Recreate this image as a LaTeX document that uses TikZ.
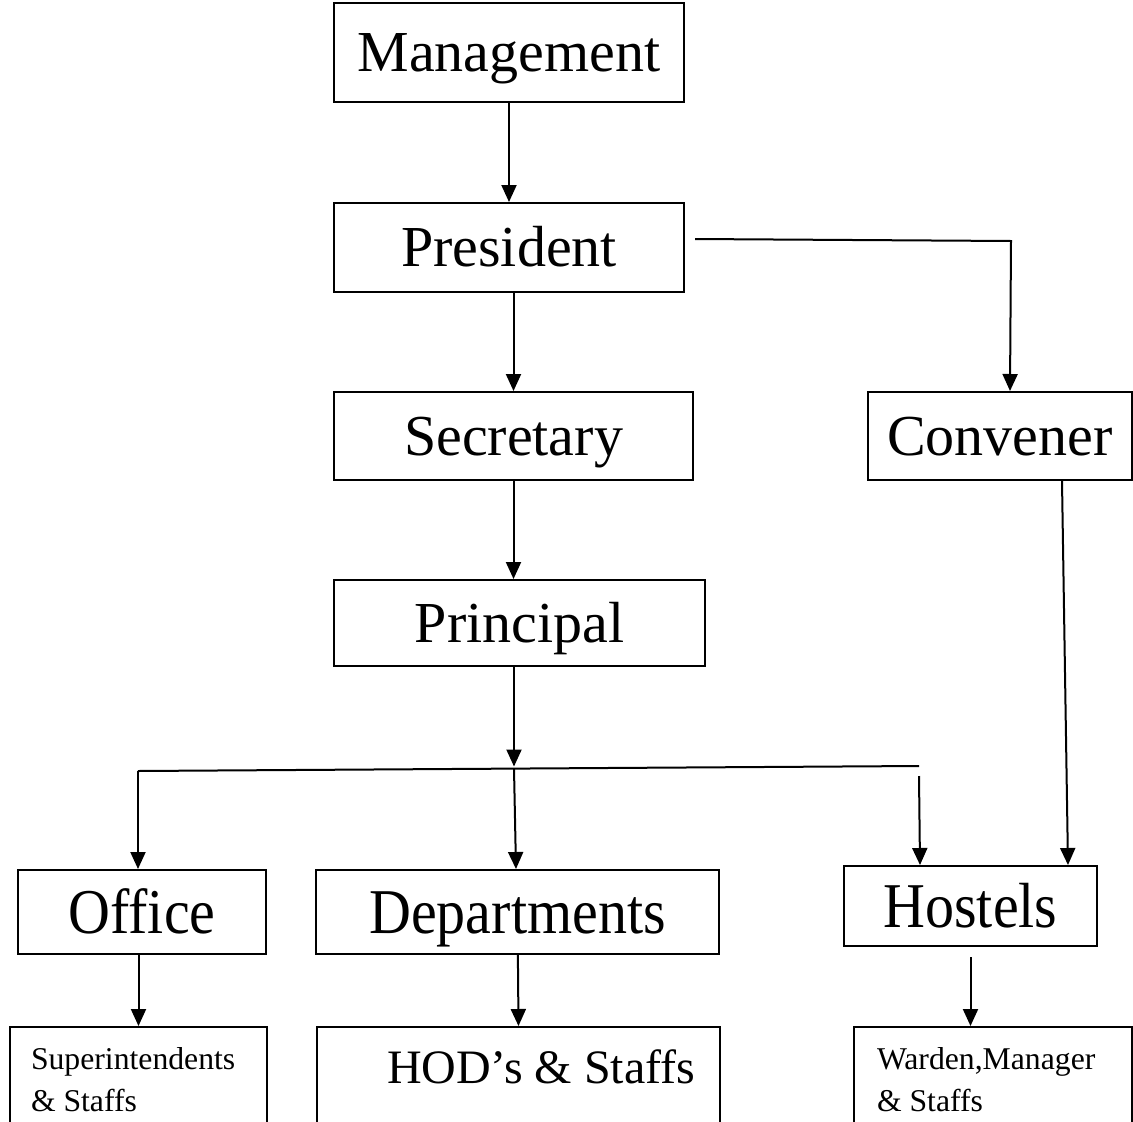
\documentclass[tikz,border=0pt]{standalone}
\usepackage{fontspec}
\setmainfont{Liberation Serif}
\usetikzlibrary{arrows.meta}

\tikzset{
  box/.style={draw, line width=2pt, inner sep=0pt, text height=38pt, text depth=0pt, font=\fontsize{58}{60}\selectfont},
  tallbox/.style={box, text height=42pt},
  lowbox/.style={draw, line width=2pt, anchor=north west, inner sep=0pt, text height=#1, text depth=150pt},
  arr/.style={line width=2pt, -{Triangle[length=17pt,width=15pt]}},
  link/.style={line width=2pt}
}
\newcommand{\lowtext}[3]{\parbox[t]{#1}{\raggedright\leftskip=#2 #3}}
\newcommand{\tall}[1]{\scalebox{1}[1.1]{#1}}

\begin{document}
\begin{tikzpicture}[x=1pt, y=-1pt]
        \useasboundingbox (0,0) rectangle (1133,1122);
        \node[box, minimum width=350pt, minimum height=99pt] (mgmt) at (509,52.5) {Management};
        \node[box, minimum width=350pt, minimum height=89pt] (pres) at (509,247.5) {President};
        \node[box, minimum width=359pt, minimum height=88pt] (sec) at (513.5,436) {Secretary};
        \node[box, minimum width=264pt, minimum height=88pt] (conv) at (1000,436) {Convener};
        \node[box, minimum width=371pt, minimum height=86pt] (prin) at (519.5,623) {Principal};
        \node[tallbox, minimum width=248pt, minimum height=84pt] (office) at (142,912) {\tall{Office}};
        \node[tallbox, minimum width=403pt, minimum height=84pt] (dept) at (517.5,912) {\tall{Departments}};
        \node[tallbox, minimum width=253pt, minimum height=80pt] (hostel) at (970.5,906) {\tall{Hostels}};
        \node[lowbox=42pt, font=\fontsize{31.7}{42}\selectfont] (sup) at (9,1026) {\lowtext{257pt}{21pt}{Superintendents\\\& Staffs}};
        \node[lowbox=56pt, font=\fontsize{48}{50}\selectfont] (hod) at (316,1026) {\lowtext{403pt}{70pt}{HOD’s \& Staffs}};
        \node[lowbox=42pt, font=\fontsize{31.7}{42}\selectfont] (warden) at (853,1026) {\lowtext{278pt}{23pt}{Warden,Manager\\\& Staffs}};
        \coordinate (busL) at (138,771);
        \coordinate (busM) at (514,768.5);
        \coordinate (busR) at (919,766);
        \draw[arr] (mgmt) -- (pres);
        \draw[arr] (pres.south -| sec.north) -- (sec.north);
        \draw[arr] ([xshift=10pt,yshift=8.5pt]pres.east) -- ++(316,2) -- ([xshift=10pt]conv.north);
        \draw[arr] (sec.south) -- (sec.south |- prin.north);
        \draw[arr] (prin.south -| busM) -- ([yshift=2pt]busM);
        \draw[link] (busL) -- (busR);
        \draw[arr] (busL) -- (busL |- office.north);
        \draw[arr] (busM) -- ([xshift=-1.5pt]dept.north);
        \draw[arr] ([yshift=-10pt]busR) -- ([xshift=1pt]busR |- hostel.north);
        \draw[arr] ([xshift=62pt]conv.south) -- ([xshift=97.5pt]hostel.north);
        \draw[arr] (office.south -| sup.north) -- (sup.north);
        \draw[arr] (dept) -- (hod.north);
        \draw[arr] ([yshift=-10pt]hostel.south) -- (hostel.south |- warden.north);
\end{tikzpicture}
\end{document}
